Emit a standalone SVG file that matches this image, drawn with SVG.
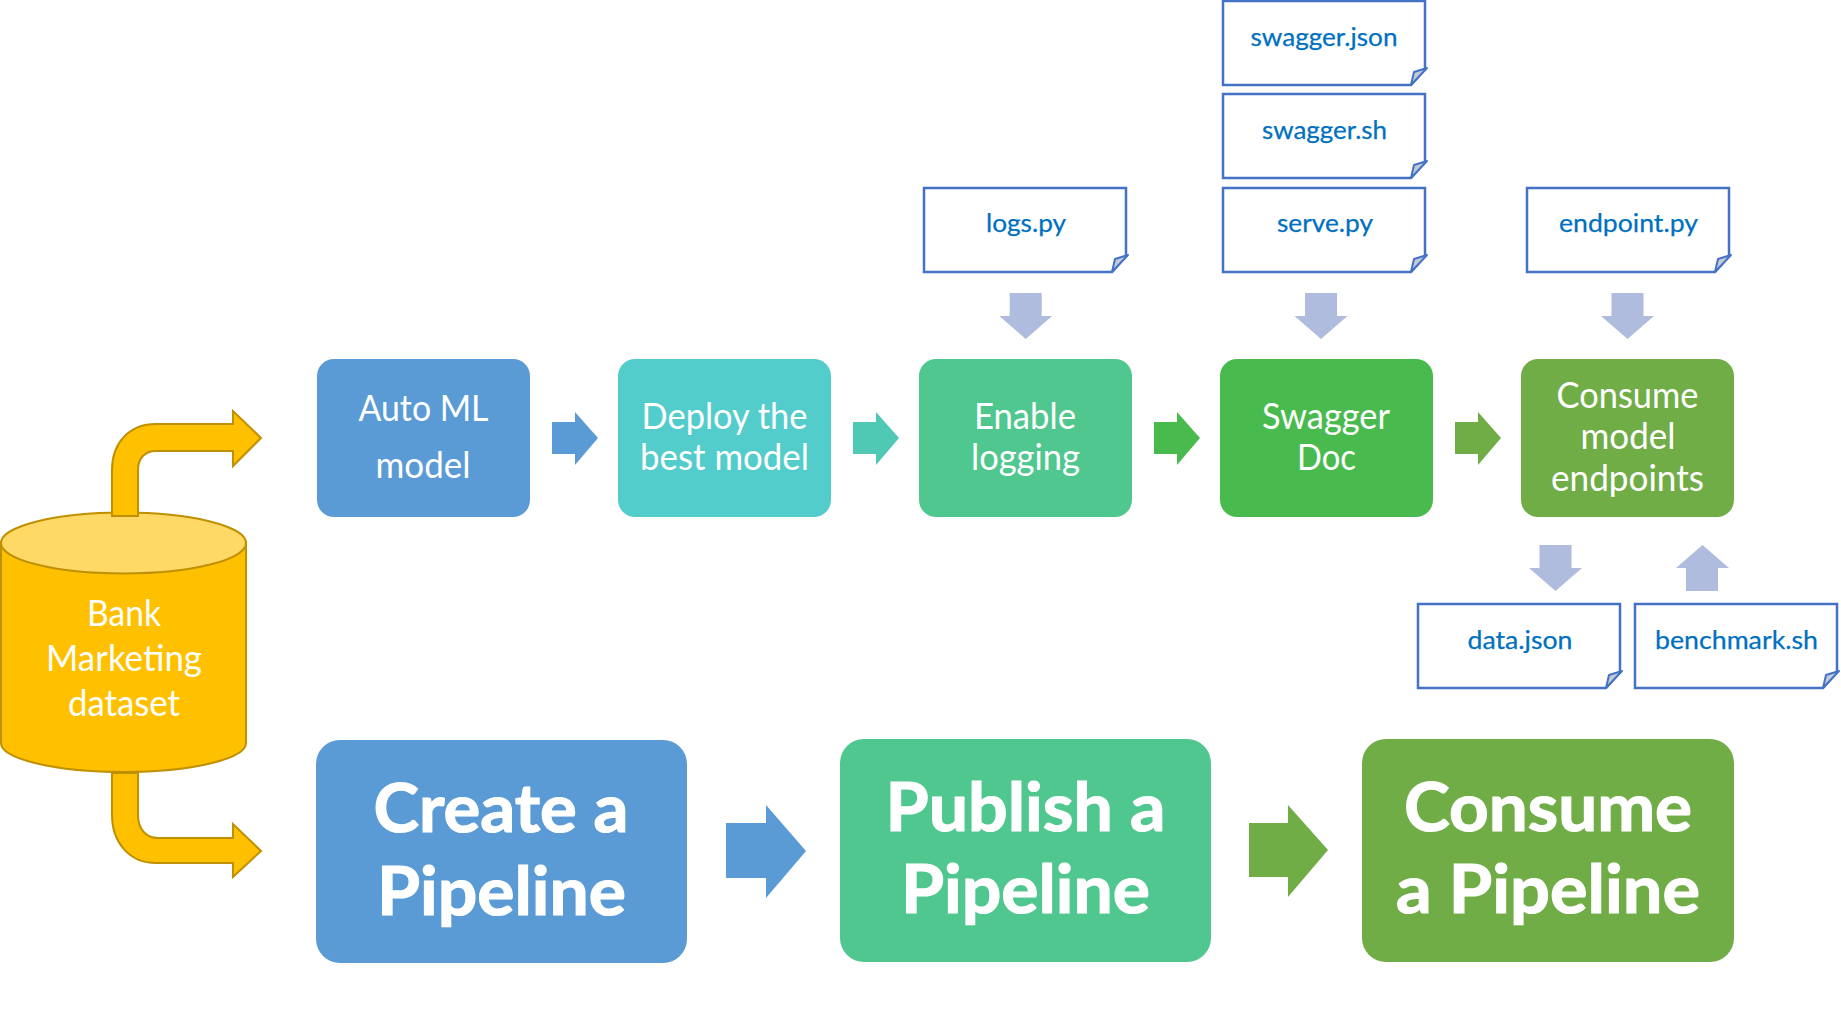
<svg xmlns="http://www.w3.org/2000/svg" width="1841" height="1021" viewBox="0 0 1841 1021">
<style>
text{font-family:"Lato","Liberation Sans",sans-serif;text-anchor:middle}
.w{fill:#fff;font-size:36px}
.b{fill:#fff;font-size:67px;font-weight:700;stroke:#fff;stroke-width:1.200px}
.d{fill:#0070C0;font-size:25px;stroke:#0070C0;stroke-width:.25px}
.doc{fill:#fff;stroke:#4472C4;stroke-width:2.500}
.fold{fill:#C5CAD8;stroke:#4472C4;stroke-width:2;stroke-linejoin:round}
.cyl{fill:#FFC000;stroke:#BF9000;stroke-width:2}
.lb{fill:#B0BCDD}
</style>
<defs>
<path id="docshape" class="doc" d="M0 0H202V68L188 84H0Z"/>
<path id="foldshape" class="fold" d="M204 67L188 84L191 71Z"/>
<path id="down" class="lb" d="M-16 0H16V23H26.500L0 46L-26.500 23H-16Z"/>
</defs>
<g id="dataset">
<path class="cyl" d="M1 542V743C1 759 56 772 123.500 772S246 759 246 743V542Z"/>
<ellipse cx="123.500" cy="543" rx="122.500" ry="30.500" fill="#FFD966" stroke="#BF9000" stroke-width="2"/>
<text class="w" x="124" y="626" textLength="74" lengthAdjust="spacingAndGlyphs">Bank</text>
<text class="w" x="124" y="671" textLength="156" lengthAdjust="spacingAndGlyphs">Marketing</text>
<text class="w" x="124" y="716" textLength="112" lengthAdjust="spacingAndGlyphs">dataset</text>
</g>
<g id="connectors">
<path class="cyl" d="M112 516V470C112 443 129 424 156 424H233V411L261 438L233 466V451H156C145 451 138 458 138 470V516Z"/>
<path class="cyl" d="M112 773V815C112 842 129 863 156 863H233V877L261 851L233 824V838H158C146 838 138 829 138 815V773Z"/>
<path fill="#5B9BD5" d="M552 422H575V412L598 438L575 465V454H552Z"/>
<path fill="#4FC9B4" d="M853 422H876V412L899 438L876 465V454H853Z"/>
<path fill="#49BB4E" d="M1154 422H1177V412L1200 438L1177 465V454H1154Z"/>
<path fill="#70AD47" d="M1455 422H1478V412L1501 438L1478 465V454H1455Z"/>
<path fill="#5B9BD5" d="M726 823H766V805L806 851L766 898V878H726Z"/>
<path fill="#70AD47" d="M1249 823H1288V805L1328 850L1288 897V877H1249Z"/>
<use href="#down" x="1025.700" y="293"/>
<use href="#down" x="1321" y="293"/>
<use href="#down" x="1627.500" y="293"/>
<use href="#down" x="1555.500" y="545"/>
<path class="lb" d="M1686 591V568H1676L1702.500 545L1729 568H1718V591Z"/>
</g>
<g id="automl"><rect x="317" y="359" width="213" height="158" rx="17" fill="#5B9BD5"/>
<text class="w" x="423.500" y="421" textLength="130" lengthAdjust="spacingAndGlyphs">Auto ML</text>
<text class="w" x="423" y="478" textLength="95" lengthAdjust="spacingAndGlyphs">model</text></g>
<g id="deploy"><rect x="618" y="359" width="213" height="158" rx="17" fill="#53CCCC"/>
<text class="w" x="724.500" y="429" textLength="166" lengthAdjust="spacingAndGlyphs">Deploy the</text>
<text class="w" x="724.500" y="470" textLength="169" lengthAdjust="spacingAndGlyphs">best model</text></g>
<g id="logging"><rect x="919" y="359" width="213" height="158" rx="17" fill="#4FC78F"/>
<text class="w" x="1025" y="429" textLength="102" lengthAdjust="spacingAndGlyphs">Enable</text>
<text class="w" x="1025.500" y="470" textLength="109" lengthAdjust="spacingAndGlyphs">logging</text></g>
<g id="swagger"><rect x="1220" y="359" width="213" height="158" rx="17" fill="#49BB4E"/>
<text class="w" x="1326" y="429" textLength="128" lengthAdjust="spacingAndGlyphs">Swagger</text>
<text class="w" x="1326.500" y="470" textLength="59" lengthAdjust="spacingAndGlyphs">Doc</text></g>
<g id="consume-endpoints"><rect x="1521" y="359" width="213" height="158" rx="17" fill="#70AD47"/>
<text class="w" x="1627.500" y="408" textLength="142" lengthAdjust="spacingAndGlyphs">Consume</text>
<text class="w" x="1628" y="449" textLength="95" lengthAdjust="spacingAndGlyphs">model</text>
<text class="w" x="1627.500" y="491" textLength="153" lengthAdjust="spacingAndGlyphs">endpoints</text></g>
<g id="create"><rect x="316" y="740" width="371" height="223" rx="24" fill="#5B9BD5"/>
<text class="b" x="501" y="832" textLength="255" lengthAdjust="spacingAndGlyphs">Create a</text>
<text class="b" x="501.500" y="915" textLength="249" lengthAdjust="spacingAndGlyphs">Pipeline</text></g>
<g id="publish"><rect x="840" y="739" width="371" height="223" rx="24" fill="#4FC78F"/>
<text class="b" x="1025.500" y="831" textLength="280" lengthAdjust="spacingAndGlyphs">Publish a</text>
<text class="b" x="1025.500" y="913" textLength="249" lengthAdjust="spacingAndGlyphs">Pipeline</text></g>
<g id="consume"><rect x="1362" y="739" width="372" height="223" rx="24" fill="#70AD47"/>
<text class="b" x="1548" y="831" textLength="288" lengthAdjust="spacingAndGlyphs">Consume</text>
<text class="b" x="1548" y="913" textLength="304" lengthAdjust="spacingAndGlyphs">a Pipeline</text></g>
<g id="swagger-json" transform="translate(1223 1)"><use href="#docshape"/><use href="#foldshape"/><text class="d" x="101" y="45" textLength="147" lengthAdjust="spacingAndGlyphs">swagger.json</text></g>
<g id="swagger-sh" transform="translate(1223 94)"><use href="#docshape"/><use href="#foldshape"/><text class="d" x="101.500" y="45" textLength="125" lengthAdjust="spacingAndGlyphs">swagger.sh</text></g>
<g id="serve" transform="translate(1223 188)"><use href="#docshape"/><use href="#foldshape"/><text class="d" x="102" y="44" textLength="96" lengthAdjust="spacingAndGlyphs">serve.py</text></g>
<g id="logs" transform="translate(924 188)"><use href="#docshape"/><use href="#foldshape"/><text class="d" x="102" y="44" textLength="80" lengthAdjust="spacingAndGlyphs">logs.py</text></g>
<g id="endpoint" transform="translate(1527 188)"><use href="#docshape"/><use href="#foldshape"/><text class="d" x="101.500" y="44" textLength="139" lengthAdjust="spacingAndGlyphs">endpoint.py</text></g>
<g id="data" transform="translate(1418 604)"><use href="#docshape"/><use href="#foldshape"/><text class="d" x="102" y="45" textLength="105" lengthAdjust="spacingAndGlyphs">data.json</text></g>
<g id="benchmark" transform="translate(1635 604)"><use href="#docshape"/><use href="#foldshape"/><text class="d" x="101.500" y="45" textLength="163" lengthAdjust="spacingAndGlyphs">benchmark.sh</text></g>
</svg>
